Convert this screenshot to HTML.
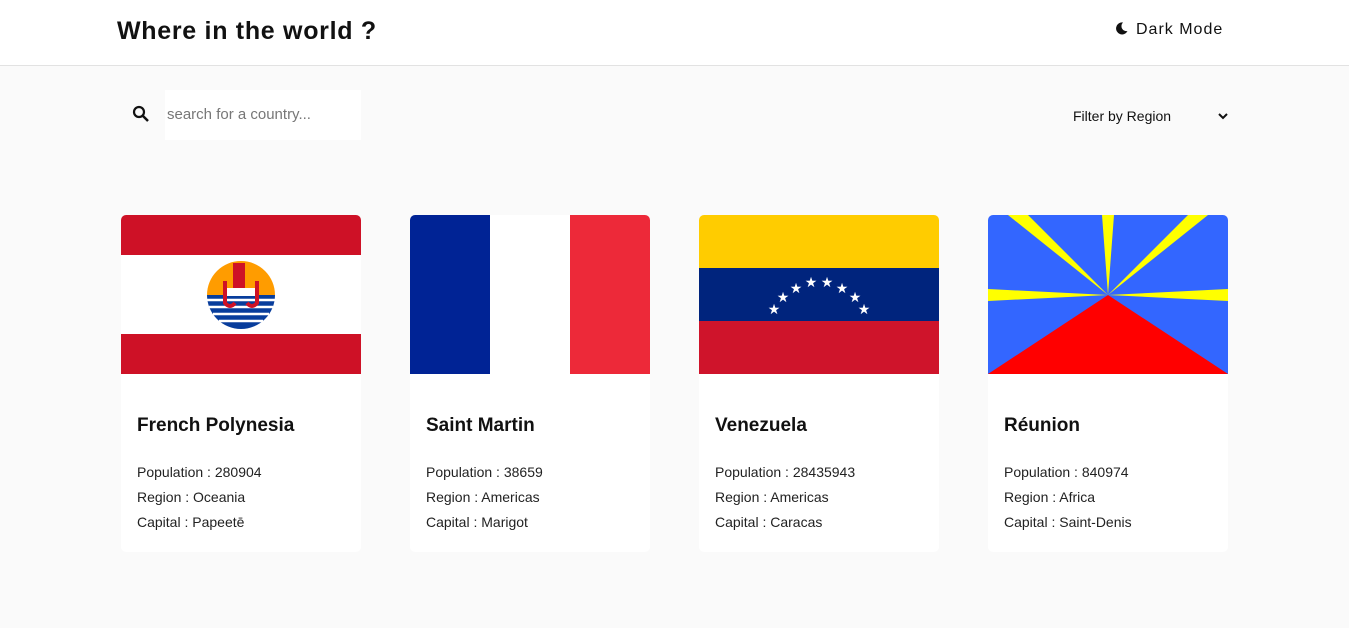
<!DOCTYPE html>
<html><head><meta charset="utf-8"><style>
*{box-sizing:border-box;margin:0;padding:0}
body{width:1349px;height:628px;background:#fafafa;font-family:"Liberation Sans",sans-serif;color:#111;overflow:hidden;position:relative}
header{position:absolute;left:0;top:0;width:1349px;height:66px;background:#fff;border-bottom:1px solid #e2e2e2}
h1{position:absolute;left:117px;top:17px;font-size:25px;font-weight:bold;letter-spacing:0.7px}
.dm{position:absolute;left:1116px;top:21px;font-size:16px;letter-spacing:1px}
.search{position:absolute;left:165px;top:90px;width:196px;height:50px;background:#fff;font-size:15px;color:#777;padding:16px 2px}
.sicon{position:absolute;left:132px;top:105px}
.filter{position:absolute;left:1073px;top:108px;font-size:14px}
.chev{position:absolute;left:1218px;top:111px}
.card{position:absolute;top:215px;width:240px;height:337px;background:#fff;border-radius:5px;overflow:hidden}
.card svg.flag{display:block;width:240px;height:159px}
.card h2{position:absolute;left:16px;top:200px;font-size:19px;font-weight:bold}
.card p{position:absolute;left:16px;font-size:14px;color:#222}
</style></head><body>
<header>
<h1>Where in the world ?</h1>
<div class="dm"><svg width="12" height="13" viewBox="0 0 12 13" style="vertical-align:-1px;margin-right:8px"><path d="M7 0.5A6 6 0 1 0 11.5 9 5 5 0 0 1 7 0.5Z" fill="#111"/></svg>Dark Mode</div>
</header>
<svg class="sicon" width="18" height="18" viewBox="0 0 18 18"><circle cx="7" cy="7" r="5" fill="none" stroke="#111" stroke-width="2.2"/><line x1="11" y1="11" x2="16" y2="16" stroke="#111" stroke-width="2.5"/></svg>
<div class="search">search for a country...</div>
<div class="filter">Filter by Region</div>
<svg class="chev" width="10" height="10" viewBox="0 0 10 10"><path d="M1 3L5 7L9 3" fill="none" stroke="#111" stroke-width="2"/></svg>

<div class="card" style="left:121px">
<svg class="flag" viewBox="0 0 240 159"><rect width="240" height="159" fill="#fff"/><rect width="240" height="40" fill="#ce1126"/><rect y="119" width="240" height="40" fill="#ce1126"/><path d="M86 80A34 34 0 0 1 154 80Z" fill="#ff9c00"/><path d="M86 80A34 34 0 0 0 154 80Z" fill="#083d9c"/><path d="M86 85h68M88 92h64M92 99h56M98 106h44" stroke="#fff" stroke-width="2.5"/><rect x="112" y="48" width="12" height="30" fill="#ce1126"/><rect x="103" y="73" width="34" height="8" fill="#fff"/><path d="M104 66v22q5 6 10 0M136 66v22q-5 6-10 0" stroke="#ce1126" stroke-width="4" fill="none"/></svg>
<h2>French Polynesia</h2>
<p style="top:249px">Population : 280904</p>
<p style="top:274px">Region : Oceania</p>
<p style="top:299px">Capital : Papeetē</p>
</div>

<div class="card" style="left:410px">
<svg class="flag" viewBox="0 0 240 159"><rect width="80" height="159" fill="#002395"/><rect x="80" width="80" height="159" fill="#fff"/><rect x="160" width="80" height="159" fill="#ed2939"/></svg>
<h2>Saint Martin</h2>
<p style="top:249px">Population : 38659</p>
<p style="top:274px">Region : Americas</p>
<p style="top:299px">Capital : Marigot</p>
</div>

<div class="card" style="left:699px">
<svg class="flag" viewBox="0 0 240 159"><rect width="240" height="53" fill="#ffcc00"/><rect y="53" width="240" height="53" fill="#00247d"/><rect y="106" width="240" height="53" fill="#cf142b"/><g fill="#fff" font-size="14" text-anchor="middle"><text x="75" y="99">★</text><text x="84" y="87">★</text><text x="97" y="78">★</text><text x="112" y="72">★</text><text x="128" y="72">★</text><text x="143" y="78">★</text><text x="156" y="87">★</text><text x="165" y="99">★</text></g></svg>
<h2>Venezuela</h2>
<p style="top:249px">Population : 28435943</p>
<p style="top:274px">Region : Americas</p>
<p style="top:299px">Capital : Caracas</p>
</div>

<div class="card" style="left:988px">
<svg class="flag" viewBox="0 0 240 159"><rect width="240" height="159" fill="#3366ff"/><path d="M120 80L0 159H240Z" fill="#f00"/><g fill="#ff0"><path d="M120 80L114 0H126Z"/><path d="M120 80L0 74V86Z"/><path d="M120 80L240 74V86Z"/><path d="M120 80L20 0H40Z"/><path d="M120 80L200 0H220Z"/></g></svg>
<h2>Réunion</h2>
<p style="top:249px">Population : 840974</p>
<p style="top:274px">Region : Africa</p>
<p style="top:299px">Capital : Saint-Denis</p>
</div>
</body></html>
